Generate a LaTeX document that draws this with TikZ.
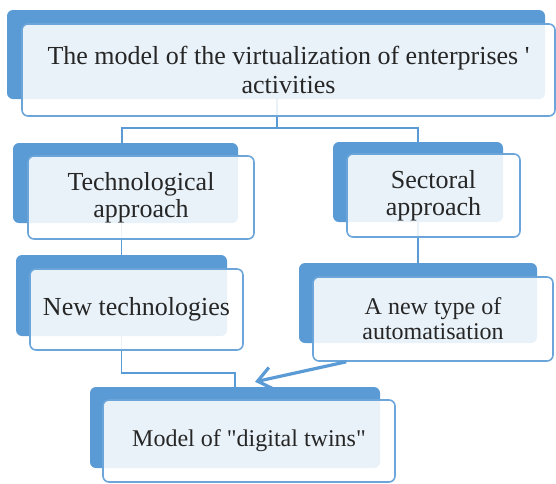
\documentclass[tikz,border=0pt]{standalone}
\usepackage{fontspec}
\setmainfont{Liberation Serif}[Ligatures=TeXOff]
\usetikzlibrary{arrows.meta,calc}
\definecolor{bblue}{HTML}{5B9BD5}
\definecolor{lblue}{HTML}{6CA5DA}
\begin{document}
\begin{tikzpicture}[x=1pt,y=-1pt,
  back/.style={rectangle,rounded corners=6pt,fill=bblue,draw=none,inner sep=0pt},
  front/.style={rectangle,rounded corners=6pt,draw=lblue,line width=1.6pt,fill=white,fill opacity=0.87,text opacity=1,inner sep=0pt,align=center,text=black!85,font=\fontsize{26}{27}\selectfont},
  small/.style={font=\fontsize{24}{25}\selectfont},
  conn/.style={draw=bblue,line width=1.4pt},
  arr/.style={draw=bblue,line width=3.2pt,-{Straight Barb[length=14pt,width=22pt]}}]
\useasboundingbox (0,0) rectangle (556,483);
% back boxes
\node[back,minimum width=538pt,minimum height=89pt] (topB) at (276,54.5) {};
\node[back,minimum width=225pt,minimum height=80pt] (techB) at (125.5,183) {};
\node[back,minimum width=170pt,minimum height=80pt] (sectB) at (418,182) {};
\node[back,minimum width=211pt,minimum height=81pt] (newB) at (121.5,295.5) {};
\node[back,minimum width=238pt,minimum height=80pt] (autoB) at (418,303) {};
\node[back,minimum width=290pt,minimum height=81pt] (digB) at (235,427.5) {};
% connectors
\coordinate (jT) at (277,128);
\coordinate (jL) at (122,128);
\coordinate (jR) at (418,128);
\coordinate (jD) at (235,373);
\draw[conn] (topB.south -| jT) -- (jT);
\draw[conn] (techB.north -| jL) -- (jL) -- (jR) -- (sectB.north);
\draw[conn] (techB.south -| newB.north) -- (newB.north);
\draw[conn] (sectB.south) -- (autoB.north);
\draw[conn] (newB.south) |- (jD) -- (digB.north);
% front boxes
\node[front,minimum width=533pt,minimum height=92pt,font=\fontsize{26}{29}\selectfont] (topF) at (288.5,70) {The model of the virtualization of enterprises '\\activities};
\node[front,minimum width=226pt,minimum height=83pt] (techF) at (141,197.5) {Technological\\approach};
\node[front,minimum width=173pt,minimum height=83pt] (sectF) at (433.5,195.5) {Sectoral\\approach};
\node[front,minimum width=213pt,minimum height=81pt] (newF) at (136.5,309.5) {New technologies};
\node[front,small,minimum width=240pt,minimum height=84pt] (autoF) at (433,319) {A new type of\\automatisation};
\node[front,small,minimum width=292pt,minimum height=82pt] (digF) at (249,441) {Model of "digital twins"};
% arrow
\draw[arr] ([xshift=34pt]autoF.south west) -- ([xshift=20pt,yshift=5pt]digB.north);
\end{tikzpicture}
\end{document}
